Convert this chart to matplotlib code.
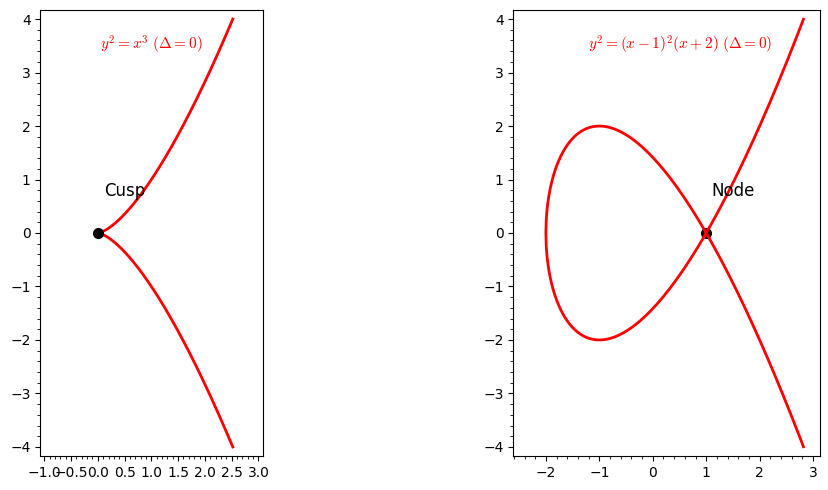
import numpy as np
import matplotlib
matplotlib.use("Agg")
import matplotlib.pyplot as plt

plt.rcParams['mathtext.fontset'] = 'cm'

# curve parameters
cusp_x_max = 2.52
node_x_min = -2.0
node_x_max = 2.82
singular_points = [(0.0, 0.0), (1.0, 0.0)]
point_labels = ["Cusp", "Node"]
curve_labels = [r"$y^2=x^3\ (\Delta=0)$", r"$y^2=(x-1)^2(x+2)\ (\Delta=0)$"]

W, H = 829, 490
fig = plt.figure(figsize=(W / 100, H / 100), dpi=100)

ax1 = fig.add_axes([40.5 / W, 34 / H, 222.8 / W, 446 / H])
ax2 = fig.add_axes([513.3 / W, 34 / H, 306.7 / W, 446 / H])

# cusp: y^2 = x^3
xc = np.linspace(0, cusp_x_max, 400)
yc = xc ** 1.5
ax1.plot(xc, yc, color='red', lw=2)
ax1.plot(xc, -yc, color='red', lw=2)
ax1.plot(*singular_points[0], 'ko', ms=7)
ax1.text(0.12, 0.7, point_labels[0], fontsize=12)
ax1.text(1.0, 3.52, curve_labels[0], color='red', fontsize=11, ha='center', va='center')
ax1.set_xlim(-1.07, 3.09)
ax1.set_ylim(-4.17, 4.17)
ax1.set_xticks(np.arange(-1.0, 3.01, 0.5))

# node: y^2 = (x-1)^2 (x+2)
ax2.plot(*singular_points[1], 'ko', ms=7)
xn = np.linspace(node_x_min, node_x_max, 800)
yn = (xn - 1) * np.sqrt(np.clip(xn + 2, 0, None))
xx = np.concatenate([xn[::-1], xn])
yy = np.concatenate([yn[::-1], -yn])
ax2.plot(xx, yy, color='red', lw=2)
ax2.text(1.1, 0.7, point_labels[1], fontsize=12)
ax2.text(0.52, 3.52, curve_labels[1], color='red', fontsize=11, ha='center', va='center')
ax2.set_xlim(-2.61, 3.13)
ax2.set_ylim(-4.17, 4.17)

for ax in (ax1, ax2):
    ax.minorticks_on()

fig.savefig("out.png", dpi=100)
